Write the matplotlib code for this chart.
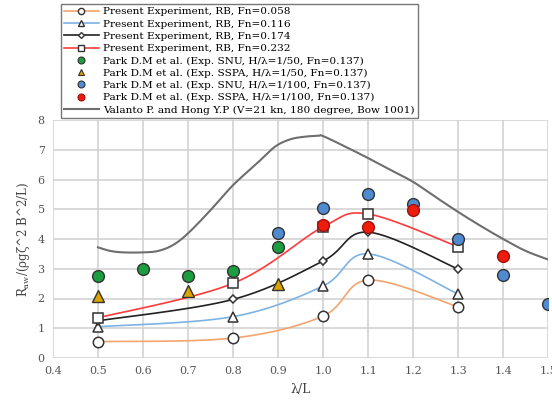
import numpy as np
import matplotlib
matplotlib.use("Agg")
import matplotlib.pyplot as plt
from matplotlib.lines import Line2D

plt.rcParams['font.family'] = ['DejaVu Serif']
plt.rcParams['mathtext.fontset'] = 'dejavuserif'

# ---- data ----
x_exp = [0.5, 0.8, 1.0, 1.1, 1.3]
fn058 = [0.55, 0.67, 1.41, 2.62, 1.72]
fn116 = [1.05, 1.39, 2.42, 3.50, 2.15]
fn174 = [1.25, 1.97, 3.26, 4.23, 2.99]
fn232 = [1.35, 2.51, 4.41, 4.84, 3.74]

snu50_x = [0.5, 0.6, 0.7, 0.8, 0.9]
snu50_y = [2.75, 3.00, 2.75, 2.94, 3.74]
sspa50_x = [0.5, 0.7, 0.9]
sspa50_y = [2.10, 2.25, 2.48]
snu100_x = [0.9, 1.0, 1.1, 1.2, 1.3, 1.4, 1.5]
snu100_y = [4.19, 5.05, 5.50, 5.18, 3.99, 2.79, 1.80]
sspa100_x = [1.0, 1.1, 1.2, 1.4]
sspa100_y = [4.47, 4.39, 4.97, 3.44]

val_x = [0.5, 0.527, 0.556, 0.6, 0.634, 0.667, 0.7, 0.75, 0.8, 0.853, 0.893, 0.927, 0.96, 0.99,
         1.0, 1.05, 1.1, 1.15, 1.2, 1.25, 1.3, 1.35, 1.4, 1.45, 1.5]
val_y = [3.72, 3.60, 3.55, 3.55, 3.60, 3.80, 4.19, 4.97, 5.81, 6.54, 7.10, 7.35, 7.44, 7.47,
         7.46, 7.10, 6.72, 6.32, 5.92, 5.41, 4.91, 4.44, 4.00, 3.60, 3.31]

labels = [
    "Present Experiment, RB, Fn=0.058",
    "Present Experiment, RB, Fn=0.116",
    "Present Experiment, RB, Fn=0.174",
    "Present Experiment, RB, Fn=0.232",
    "Park D.M et al. (Exp. SNU, H/λ=1/50, Fn=0.137)",
    "Park D.M et al. (Exp. SSPA, H/λ=1/50, Fn=0.137)",
    "Park D.M et al. (Exp. SNU, H/λ=1/100, Fn=0.137)",
    "Park D.M et al. (Exp. SSPA, H/λ=1/100, Fn=0.137)",
    "Valanto P. and Hong Y.P (V=21 kn, 180 degree, Bow 1001)",
]


def smooth(x, y, n=30):
    """Excel-like smoothed line: cubic Bezier with Catmull-Rom tangents."""
    x = np.asarray(x, float); y = np.asarray(y, float)
    pts = np.column_stack([x, y])
    out = [pts[0]]
    t = np.linspace(0, 1, n)[1:]
    for i in range(len(pts) - 1):
        p0 = pts[i - 1] if i > 0 else pts[i]
        p1 = pts[i]; p2 = pts[i + 1]
        p3 = pts[i + 2] if i + 2 < len(pts) else pts[i + 1]
        c1 = p1 + (p2 - p0) / 6.0
        c2 = p2 - (p3 - p1) / 6.0
        for tt in t:
            b = ((1 - tt) ** 3) * p1 + 3 * ((1 - tt) ** 2) * tt * c1 + 3 * (1 - tt) * tt ** 2 * c2 + tt ** 3 * p2
            out.append(b)
    out = np.array(out)
    return out[:, 0], out[:, 1]


fig = plt.figure(figsize=(5.52, 4.0), dpi=100)
ax = fig.add_axes([0.096, 0.105, 0.897, 0.595])

c_or = '#f4a46c'
c_bl = '#7db3e3'
c_bk = '#222222'
c_rd = '#ff3b3b'
c_gr = '#1a9e3f'
c_ye = '#d9a400'
c_cb = '#4f8bd0'
c_cr = '#ee1c0c'
c_gy = '#6e6e6e'

# Valanto line
sx, sy = smooth(val_x, val_y)
ax.plot(sx, sy, color=c_gy, lw=1.5, zorder=2)

exp_series = [(fn058, c_or, 'o', 7.5), (fn116, c_bl, '^', 7.5), (fn174, c_bk, 'D', 4.5), (fn232, c_rd, 's', 7.5)]
for ys, col, mk, ms in exp_series:
    sx, sy = smooth(x_exp, ys)
    ax.plot(sx, sy, color=col, lw=1.2, zorder=3)
    ax.plot(x_exp, ys, ls='none', marker=mk, ms=ms, mfc='white', mec='#333333', mew=1.1, zorder=4)

pts = [(snu50_x, snu50_y, c_gr, 'o', 8.5), (sspa50_x, sspa50_y, c_ye, '^', 8),
       (snu100_x, snu100_y, c_cb, 'o', 8.5), (sspa100_x, sspa100_y, c_cr, 'o', 8.5)]
for xs, ys, col, mk, ms in pts:
    ec = '#333333' if col != c_cr else '#a01010'
    ax.plot(xs, ys, ls='none', marker=mk, ms=ms, mfc=col, mec=ec, mew=1.0, zorder=5)

ax.set_xlim(0.4, 1.5)
ax.set_ylim(0, 8)
ax.set_xticks(np.round(np.arange(0.4, 1.51, 0.1), 1))
ax.set_xticklabels([f"{v:.1f}" for v in np.arange(0.4, 1.51, 0.1)])
ax.set_yticks(range(0, 9))
ax.grid(True, color='#d0d0d0', lw=1.1)
ax.set_axisbelow(True)
for s in ax.spines.values():
    s.set_visible(False)
ax.tick_params(length=0, labelsize=8, colors='#555555', pad=6)
ax.set_xlabel('λ/L', fontsize=9, color='#444444', labelpad=5)
ax.set_ylabel(r'R$_{\mathrm{aw}}$/(ρgζ^2 B^2/L)', fontsize=8.5, color='#444444', labelpad=4)

handles = [
    Line2D([], [], color=c_or, marker='o', ms=4.5, mfc='white', mec='#333333', lw=1.2),
    Line2D([], [], color=c_bl, marker='^', ms=4.5, mfc='white', mec='#333333', lw=1.2),
    Line2D([], [], color=c_bk, marker='D', ms=3, mfc='white', mec='#333333', lw=1.2),
    Line2D([], [], color=c_rd, marker='s', ms=4.5, mfc='white', mec='#333333', lw=1.2),
    Line2D([], [], color=c_gr, marker='o', ls='none', ms=5, mec='#333333', mew=0.8),
    Line2D([], [], color=c_ye, marker='^', ls='none', ms=5, mec='#333333', mew=0.8),
    Line2D([], [], color=c_cb, marker='o', ls='none', ms=5, mec='#333333', mew=0.8),
    Line2D([], [], color=c_cr, marker='o', ls='none', ms=5, mec='#a01010', mew=0.8),
    Line2D([], [], color=c_gy, lw=1.5),
]
leg = fig.legend(handles, labels, loc='upper left', bbox_to_anchor=(61 / 552, 1 - 4 / 400),
                 fontsize=7.55, frameon=True, fancybox=False, edgecolor='#555555',
                 handlelength=3.3, handletextpad=0.4, labelspacing=0.28,
                 borderpad=0.3, borderaxespad=0)
leg.get_frame().set_linewidth(1.0)

fig.savefig('out.png', dpi=100)
